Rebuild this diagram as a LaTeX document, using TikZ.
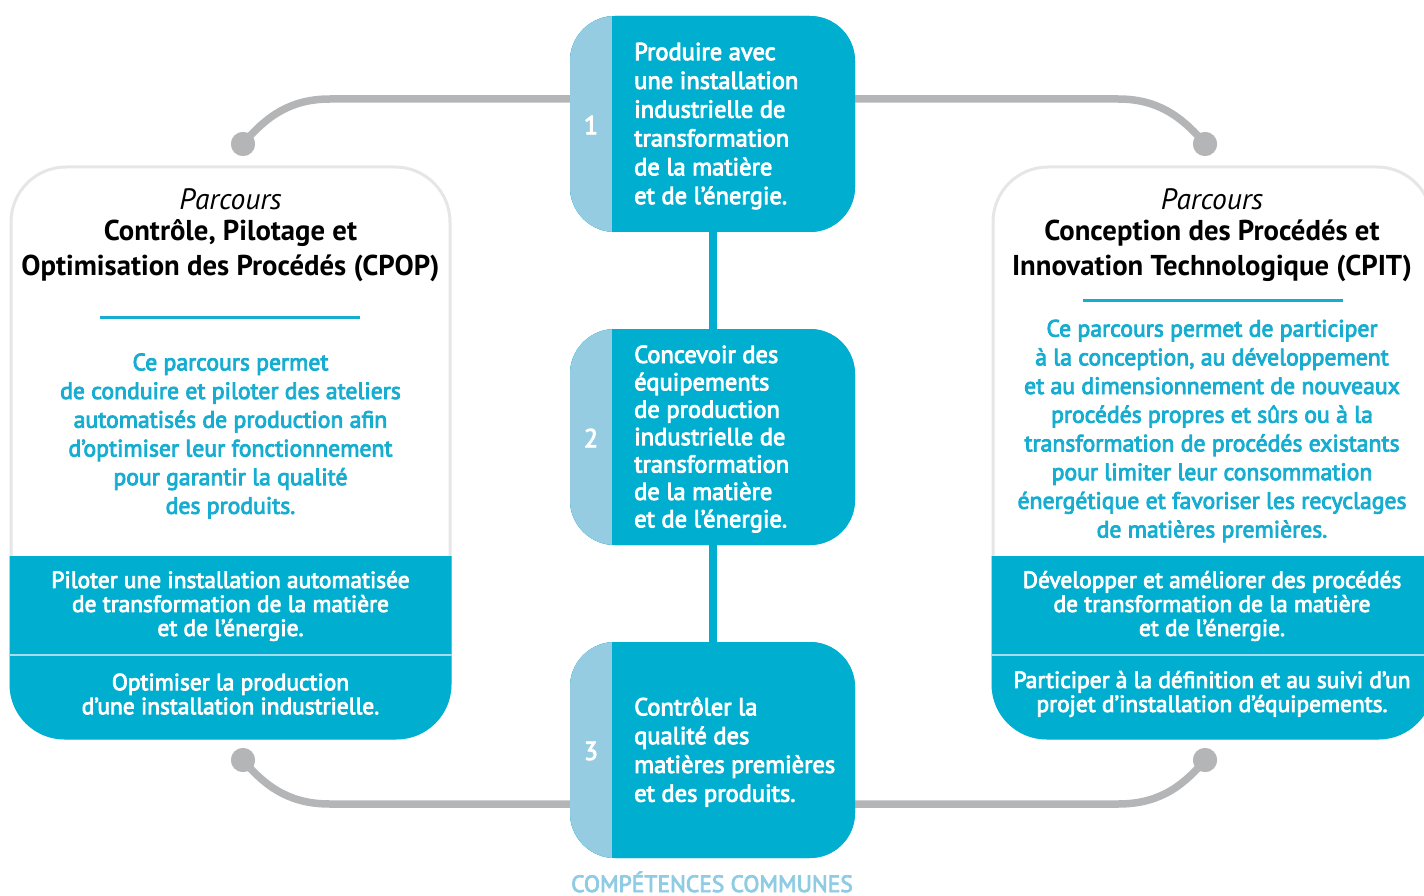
\documentclass[tikz,border=0pt]{standalone}
\usepackage{fontspec}
\setmainfont{PT Sans}
\newfontfamily\semib[FakeBold=3.5]{PT Sans}
\usetikzlibrary{calc}
\definecolor{cy}{HTML}{00AECF}
\definecolor{strip}{HTML}{95CCE2}
\definecolor{lgray}{HTML}{B4B5B7}
\definecolor{cardb}{HTML}{E6E6E6}
\definecolor{sepc}{HTML}{A6DCEB}
\definecolor{comp}{HTML}{8FCCE4}
\definecolor{desc}{HTML}{17ADD0}
\begin{document}
\begin{tikzpicture}[x=1pt,y=-1pt,
  mbox/.style={fill=cy, rounded corners=45pt, minimum width=285pt, minimum height=216pt, inner sep=0pt,
    path picture={\fill[strip, sharp corners] (path picture bounding box.north west) rectangle ([xshift=42pt]path picture bounding box.south west);}},
  mtext/.style={anchor=west, align=left, inner sep=0pt, text=white, font=\semib\fontsize{24.5}{28.8}\selectfont},
  num/.style={inner sep=0pt, text=white, font=\semib\fontsize{26}{28}\selectfont},
  vline/.style={draw=cy, line width=8pt},
  gline/.style={draw=lgray, line width=7.5pt},
  gdot/.style={circle, fill=lgray, minimum size=24pt, inner sep=0pt},
  cardshape/.style={draw=cardb, line width=3pt, fill=white, rounded corners=55pt, minimum width=439pt, minimum height=571pt, inner sep=0pt},
  parc/.style={inner sep=0pt, font=\itshape\fontsize{29.5}{30}\selectfont},
  ttl/.style={inner sep=0pt, align=center, font=\bfseries\fontsize{28.7}{35}\selectfont},
  dsc/.style={inner sep=0pt, align=center, text=desc, font=\semib\fontsize{23.7}{28.7}\selectfont},
  btxt/.style={inner sep=0pt, align=center, text=white, font=\semib\fontsize{23.4}{24}\selectfont},
  rule/.style={draw=desc, line width=3pt}
]
\useasboundingbox (0,0) rectangle (1424,896);
\clip (0,0) rectangle (1424,896);

% middle boxes
\node[mbox] (b1) at (712.5,124) {};
\node[mbox] (b2) at (712.5,437) {};
\node[mbox] (b3) at (712.5,750) {};

% dots
\node[gdot] (dTL) at (243,144) {};
\node[gdot] (dTR) at (1205,144) {};
\node[gdot] (dBL) at (243,760) {};
\node[gdot] (dBR) at (1205,760) {};
\coordinate (hTL) at (330,99);
\coordinate (hTR) at (1118,99);
\coordinate (hBL) at (330,804);
\coordinate (hBR) at (1118,804);

\draw[gline] (dTL.center) .. controls (268,114) and (293,99) .. (hTL) -- ([yshift=25pt]b1.west);
\draw[gline] (dTR.center) .. controls (1180,114) and (1155,99) .. (hTR) -- ([yshift=25pt]b1.east);
\draw[gline] (dBL.center) .. controls (268,790) and (293,804) .. (hBL) -- ([yshift=-54pt]b3.west);
\draw[gline] (dBR.center) .. controls (1180,790) and (1155,804) .. (hBR) -- ([yshift=-54pt]b3.east);
\draw[vline] (b1.south) -- (b2.north);
\draw[vline] (b2.south) -- (b3.north);

% redraw boxes and dots on top
\node[mbox] at (b1) {};
\node[mbox] at (b2) {};
\node[mbox] at (b3) {};
\node[gdot] at (dTL) {};
\node[gdot] at (dTR) {};
\node[gdot] at (dBL) {};
\node[gdot] at (dBR) {};

\node[num] (n1) at (591,125) {1};
\node[num] (n2) at (591,438) {2};
\node[num] (n3) at (591,751) {3};
\node[mtext] (t1) at (634,126) {Produire avec\\une installation\\industrielle de\\transformation\\de la matière\\et de l’énergie.};
\node[mtext, font=\semib\fontsize{24.5}{27.4}\selectfont] (t2) at (634,439) {Concevoir des\\équipements\\de production\\industrielle de\\transformation\\de la matière\\et de l’énergie.};
\node[mtext] (t3) at (634,752) {Contrôler la\\qualité des\\matières premières\\et des produits.};

\node[anchor=base, inner sep=0pt, text=comp, font=\semib\fontsize{23.5}{24}\selectfont] (comp) at (712,892) {COMPÉTENCES COMMUNES};

% left card
\node[cardshape] (cardL) at (230.5,452.5) {};
\begin{scope}
\clip[rounded corners=55pt] (cardL.north west) rectangle (cardL.south east);
\fill[cy] (0,556) rectangle (1424,745);
\draw[sepc, line width=2.5pt] (0,655) -- (1424,655);
\end{scope}
\node[parc] (pL) at (230.5,199) {Parcours};
\node[ttl] (tL) at (230.5,251) {Contrôle, Pilotage et\\Optimisation des Procédés (CPOP)};
\draw[rule] (100,317) -- (360,317);
\node[dsc] (dL) at (230.5,436) {Ce parcours permet\\de conduire et piloter des ateliers\\automatisés de production afin\\d’optimiser leur fonctionnement\\pour garantir la qualité\\des produits.};
\node[btxt] (bL1) at (230.5,606) {Piloter une installation automatisée\\de transformation de la matière\\et de l’énergie.};
\node[btxt] (bL2) at (230.5,694) {Optimiser la production\\d’une installation industrielle.};

% right card
\node[cardshape] (cardR) at (1212.5,452.5) {};
\begin{scope}
\clip[rounded corners=55pt] (cardR.north west) rectangle (cardR.south east);
\fill[cy] (900,556) rectangle (1500,745);
\draw[sepc, line width=2.5pt] (900,655) -- (1500,655);
\end{scope}
\node[parc] (pR) at (1212,199) {Parcours};
\node[ttl] (tR) at (1212,251) {Conception des Procédés et\\Innovation Technologique (CPIT)};
\draw[rule] (1083,300) -- (1343,300);
\node[dsc] (dR) at (1212,431) {Ce parcours permet de participer\\à la conception, au développement\\et au dimensionnement de nouveaux\\procédés propres et sûrs ou à la\\transformation de procédés existants\\pour limiter leur consommation\\énergétique et favoriser les recyclages\\de matières premières.};
\node[btxt] (bR1) at (1212,606) {Développer et améliorer des procédés\\de transformation de la matière\\et de l’énergie.};
\node[btxt] (bR2) at (1212,694) {Participer à la définition et au suivi d’un\\projet d’installation d’équipements.};
\end{tikzpicture}
\end{document}
